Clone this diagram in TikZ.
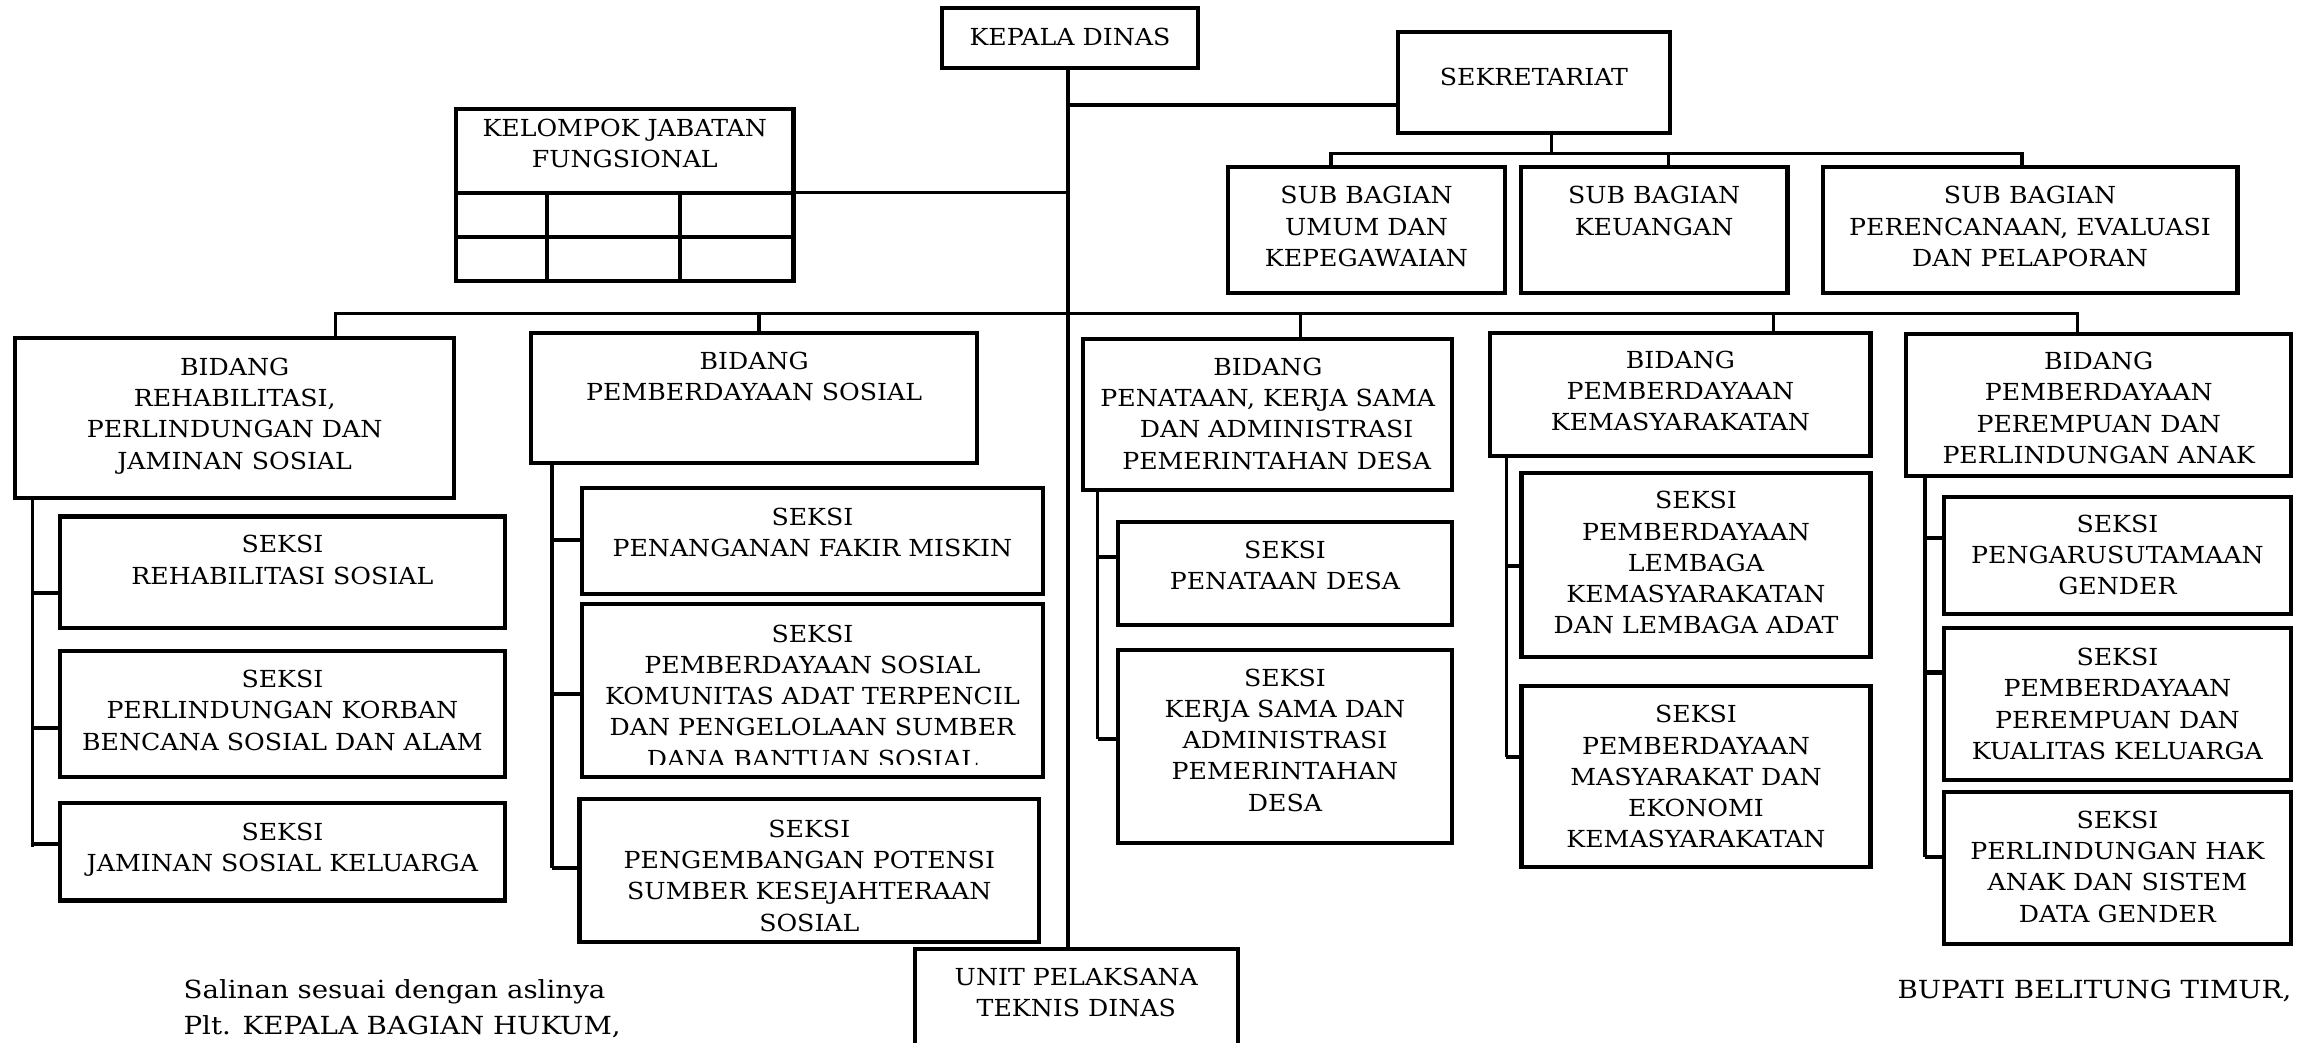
\documentclass[tikz,border=0pt]{standalone}
\usepackage{fontspec}
\setmainfont[FakeStretch=1.075]{DejaVu Serif}
\newfontfamily\signfont[FakeStretch=1.11]{DejaVu Serif}
\usetikzlibrary{calc}

% frame node + top-aligned caption: name, x1, y1, x2, y2, caption offset, caption
\newcommand\orgbox[7]{%
  \node[frame, minimum width={(#4-#2)*1pt}, minimum height={(#5-#3)*1pt},
        anchor=north west] (#1) at (#2,#3) {};
  \node[caption, anchor=north] (#1-txt) at ($(#1.north)+(0,#6)$) {#7};
}

\begin{document}
\begin{tikzpicture}[x=1pt, y=-1pt,
  frame/.style={draw, line width=2.8pt, inner sep=0pt, outer sep=0pt, fill=white},
  caption/.style={inner sep=0pt, align=center, font=\fontsize{16}{21.3}\selectfont},
  conn/.style={line width=2.3pt},
  stub/.style={line width=2.8pt},
  plain/.style={inner sep=0pt, font=\signfont\fontsize{17}{24}\selectfont}]

\clip (0,0) rectangle (1568,711);
\fill[white] (0,0) rectangle (1568,711);

% ---- top level ----
\orgbox{kd}{642.7}{5.7}{816.8}{46.6}{13.3}{KEPALA DINAS}
\orgbox{sek}{953.2}{22.0}{1139.2}{90.9}{24.3}{SEKRETARIAT}
\orgbox{kjf}{311}{74.1}{541.2}{191.6}{7}{KELOMPOK JABATAN\\FUNGSIONAL}
\draw[frame] ([yshift=-57.3pt]kjf.north west) -- ([yshift=-57.3pt]kjf.north east);
\draw[frame] ([yshift=-87.3pt]kjf.north west) -- ([yshift=-87.3pt]kjf.north east);
\draw[frame] ([xshift=62.2pt]kjf.south west) -- ++(0,-60.2);
\draw[frame] ([xshift=152.7pt]kjf.south west) -- ++(0,-60.2);

% ---- sub bagian ----
\orgbox{sb1}{837.3}{113.7}{1026.7}{200}{13.3}{SUB BAGIAN\\UMUM DAN\\KEPEGAWAIAN}
\orgbox{sb2}{1037.2}{113.7}{1219.1}{200}{13.3}{SUB BAGIAN\\KEUANGAN}
\orgbox{sb3}{1243.1}{113.7}{1526}{200}{13.3}{SUB BAGIAN\\PERENCANAAN, EVALUASI\\DAN PELAPORAN}

% ---- bidang ----
\orgbox{b1}{10.5}{230.7}{309.6}{339.8}{13.3}{BIDANG\\REHABILITASI,\\PERLINDUNGAN DAN\\JAMINAN SOSIAL}
\orgbox{b2}{362.2}{227.3}{666.5}{316}{12.7}{BIDANG\\PEMBERDAYAAN SOSIAL}
\orgbox{b3}{738.9}{231.4}{990.5}{334.2}{12.6}{BIDANG\\PENATAAN, KERJA SAMA\\\hspace*{12pt}DAN ADMINISTRASI\\\hspace*{12pt}PEMERINTAHAN DESA}
\orgbox{b4}{1016.5}{226.9}{1275.7}{311}{12.1}{BIDANG\\PEMBERDAYAAN\\KEMASYARAKATAN}
\orgbox{b5}{1300.2}{227.8}{1562.6}{324.6}{12.2}{BIDANG\\PEMBERDAYAAN\\PEREMPUAN DAN\\PERLINDUNGAN ANAK}

% ---- seksi ----
\orgbox{s11}{40.7}{352.3}{344.5}{428.5}{12.7}{SEKSI\\REHABILITASI SOSIAL}
\orgbox{s12}{40.7}{443.7}{344.5}{530.1}{13.3}{SEKSI\\PERLINDUNGAN KORBAN\\BENCANA SOSIAL DAN ALAM}
\orgbox{s13}{40.7}{547.4}{344.5}{614.2}{13.6}{SEKSI\\JAMINAN SOSIAL KELUARGA}

\orgbox{s21}{396.7}{333.0}{711.5}{405.1}{13}{SEKSI\\PENANGANAN FAKIR MISKIN}
\orgbox{s22}{396.7}{411.9}{711.5}{530.1}{14.1}{}
\begin{scope}
  \clip (s22.north west) rectangle ([yshift=8.6pt]s22.south east);
  \node[caption, anchor=north] (s22-txt) at ($(s22.north)+(0,14.1)$)
    {SEKSI\\PEMBERDAYAAN SOSIAL\\KOMUNITAS ADAT TERPENCIL\\DAN PENGELOLAAN SUMBER\\DANA BANTUAN SOSIAL};
\end{scope}
\draw[line width=2.8pt] (s22.north west) rectangle (s22.south east);
\orgbox{s23}{395.2}{545.1}{708.8}{642.6}{14}{SEKSI\\PENGEMBANGAN POTENSI\\SUMBER KESEJAHTERAAN\\SOSIAL}

\orgbox{s31}{762.3}{355.8}{990.5}{426.2}{13.2}{SEKSI\\PENATAAN DESA}
\orgbox{s32}{762.3}{443.3}{990.5}{574.7}{12.7}{SEKSI\\KERJA SAMA DAN\\ADMINISTRASI\\PEMERINTAHAN\\DESA}

\orgbox{s41}{1037.7}{322.3}{1275.7}{447.8}{12.7}{SEKSI\\PEMBERDAYAAN\\LEMBAGA\\KEMASYARAKATAN\\DAN LEMBAGA ADAT}
\orgbox{s42}{1037.7}{467.8}{1275.7}{591.1}{13.2}{SEKSI\\PEMBERDAYAAN\\MASYARAKAT DAN\\EKONOMI\\KEMASYARAKATAN}

\orgbox{s51}{1325.7}{339.2}{1562.6}{418.7}{11.8}{SEKSI\\PENGARUSUTAMAAN\\GENDER}
\orgbox{s52}{1325.7}{428.5}{1562.6}{532}{13.5}{SEKSI\\PEMBERDAYAAN\\PEREMPUAN DAN\\KUALITAS KELUARGA}
\orgbox{s53}{1325.7}{539.9}{1562.6}{644}{13.1}{SEKSI\\PERLINDUNGAN HAK\\ANAK DAN SISTEM\\DATA GENDER}

% ---- unit ----
\orgbox{upt}{623.8}{647.4}{844.3}{730}{12.6}{UNIT PELAKSANA\\TEKNIS DINAS}

% ---- main trunk and branches ----
\coordinate (jsek) at (728.5,71.6);
\coordinate (jkjf) at (728.5,131.4);
\coordinate (bbus) at (728.5,213.7);
\coordinate (sbus) at (1058.2,104.6);
\draw[conn] (kd.south -| jsek) -- (upt.north -| jsek);
\draw[conn] (jsek) -- (jsek -| sek.west);
\draw[conn] (jkjf) -- (jkjf -| kjf.east);

% secretariat bus
\draw[conn] (sbus |- sek.south) -- (sbus);
\draw[conn] ([xshift=-24.2pt]sb1.north) |- (sbus);
\draw[conn] ([xshift=10pt]sb2.north) |- (sbus);
\draw[conn] ([xshift=-5.5pt]sb3.north) |- (sbus);

% bidang bus
\draw[conn] ([xshift=68.9pt]b1.north) |- (bbus);
\draw[conn] ([xshift=3.3pt]b2.north) |- (bbus);
\draw[conn] ([xshift=22.3pt]b3.north) |- (bbus);
\draw[conn] ([xshift=63.4pt]b4.north) |- (bbus);
\draw[conn] ([xshift=-14.4pt]b5.north) |- (bbus);

% seksi ladders
\draw[conn] ([xshift=11.5pt]b1.south west) -- ++(0,237.6);
\draw[stub] ([yshift=-14.2pt]s11.west) -- ++(-18.7,0);
\draw[stub] ([yshift=-9.8pt]s12.west) -- ++(-18.7,0);
\draw[stub] ([yshift=5.2pt]s13.west) -- ++(-18.7,0);

\draw[conn] ([xshift=14.4pt]b2.south west) -- ++(0,276.2);
\draw[stub] ([yshift=0.75pt]s21.west) -- ++(-20.1,0);
\draw[stub] ([yshift=-2.5pt]s22.west) -- ++(-20.1,0);
\draw[stub] ([yshift=1.65pt]s23.west) -- ++(-18.6,0);

\draw[conn] ([xshift=9.8pt]b3.south west) -- ++(0,170);
\draw[stub] ([yshift=10.9pt]s31.west) -- ++(-13.6,0);
\draw[stub] ([yshift=4.8pt]s32.west) -- ++(-13.6,0);

\draw[conn] ([xshift=10.9pt]b4.south west) -- ++(0,205);
\draw[stub] ([yshift=-0.95pt]s41.west) -- ++(-10.3,0);
\draw[stub] ([yshift=13.45pt]s42.west) -- ++(-10.3,0);

\draw[conn] ([xshift=12.8pt]b5.south west) -- ++(0,259.6);
\draw[stub] ([yshift=11.85pt]s51.west) -- ++(-12.7,0);
\draw[stub] ([yshift=21.55pt]s52.west) -- ++(-12.7,0);
\draw[stub] ([yshift=7.75pt]s53.west) -- ++(-12.7,0);

% ---- signatures ----
\node[plain, anchor=base west] (salinan) at (125,681) {Salinan sesuai dengan aslinya};
\node[plain, anchor=base west] (plt) at (125,705.5) {Plt. KEPALA BAGIAN HUKUM,};
\node[plain, anchor=base west] (bupati) at (1294,681) {BUPATI BELITUNG TIMUR,};
\end{tikzpicture}
\end{document}
